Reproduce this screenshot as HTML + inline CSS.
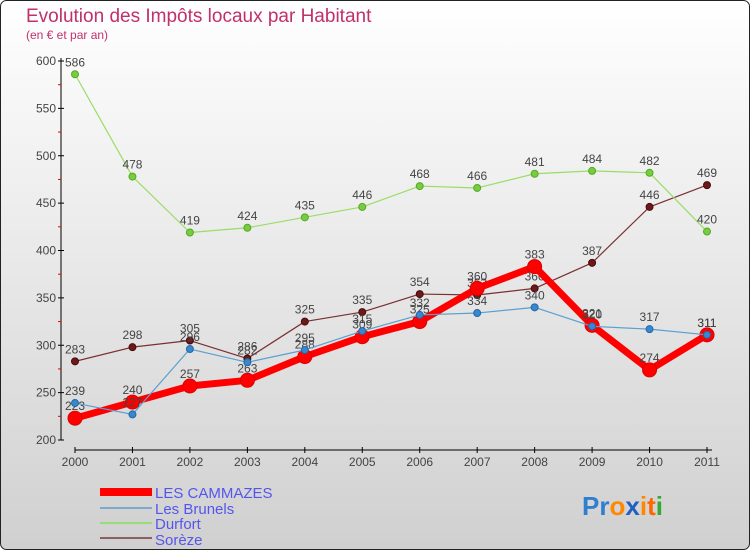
<!DOCTYPE html>
<html><head><meta charset="utf-8"><style>
body{margin:0;width:750px;height:550px;overflow:hidden;font-family:"Liberation Sans",sans-serif}
</style></head><body>
<svg id="chart" width="750" height="550" xmlns="http://www.w3.org/2000/svg">
<defs><linearGradient id="bg" x1="0" y1="0" x2="0" y2="1"><stop offset="0" stop-color="#ffffff"/><stop offset="1" stop-color="#d0d0d0"/></linearGradient></defs>
<rect x="0.5" y="0.5" width="749" height="549" rx="6" fill="url(#bg)" stroke="#222"/>
<text x="26" y="22" font-size="19" fill="#c0306a">Evolution des Impôts locaux par Habitant</text>
<text x="26" y="39" font-size="12" fill="#c0306a">(en € et par an)</text>
<g id="axes"></g><g id="series"></g>
<g>
<rect x="100" y="488" width="52" height="8" fill="#ff0000"/>
<text x="155" y="498" font-size="15" fill="#5555ee">LES CAMMAZES</text>
<rect x="100" y="507" width="52" height="2" fill="#7aaace"/>
<text x="155" y="514" font-size="15" fill="#5555ee">Les Brunels</text>
<rect x="100" y="522" width="52" height="2" fill="#99dd77"/>
<text x="155" y="529" font-size="15" fill="#5555ee">Durfort</text>
<rect x="100" y="537" width="52" height="2" fill="#8b6060"/>
<text x="155" y="545" font-size="15" fill="#5555ee">Sorèze</text>
</g>
<text x="582" y="515" font-size="26" font-weight="bold"><tspan fill="#2f7fd0">Pr</tspan><tspan fill="#ff8800">o</tspan><tspan fill="#2060c0">x</tspan><tspan fill="#ff8800">i</tspan><tspan fill="#ff6600">t</tspan><tspan fill="#33aa33">i</tspan></text>
</svg>
<script>
const years=[2000,2001,2002,2003,2004,2005,2006,2007,2008,2009,2010,2011];
const cammazes=[223,240,257,263,288,309,325,360,383,321,274,311];
const brunels=[239,227,296,282,295,315,332,334,340,320,317,311];
const durfort=[586,478,419,424,435,446,468,466,481,484,482,420];
const soreze=[283,298,305,286,325,335,354,353,360,387,446,469];
const yTicks=[200,250,300,350,400,450,500,550,600];
const NS='http://www.w3.org/2000/svg';
const x=i=>75+i*(707-75)/(years.length-1);
const y=v=>440-(v-200)*(440-61)/400;
function mk(tag,attrs,parent){const e=document.createElementNS(NS,tag);for(const k in attrs)e.setAttribute(k,attrs[k]);parent.appendChild(e);return e;}
const ax=document.getElementById('axes');
let l=mk('line',{x1:61,y1:58,x2:61,y2:440,stroke:'#000'},ax);


l=mk('line',{x1:75,y1:450,x2:712,y2:450,stroke:'#000'},ax);


yTicks.forEach((t,i)=>{
 mk('line',{x1:58,y1:y(t),x2:64,y2:y(t),stroke:'#000'},ax);
 const tx=mk('text',{x:56,y:y(t)+4,'font-size':12,fill:'#444','text-anchor':'end'},ax);
 tx.textContent=t;
 
 
 if(i<yTicks.length-1){const m=(t+yTicks[i+1])/2;mk('line',{x1:58,y1:y(m),x2:61,y2:y(m),stroke:'#e00'},ax);}
});
years.forEach((yr,i)=>{
 mk('line',{x1:x(i),y1:447,x2:x(i),y2:453,stroke:'#000'},ax);
 const tx=mk('text',{x:x(i),y:466,'font-size':12,fill:'#444','text-anchor':'middle'},ax);
 tx.textContent=yr;
 
 
});
const sg=document.getElementById('series');
function draw(data,name,color,w,r,dot,dotStroke){
 const g=mk('g',{},sg);
 
 
 const p=mk('polyline',{points:data.map((v,i)=>x(i)+','+y(v)).join(' '),fill:'none',stroke:color,'stroke-width':w,'stroke-linejoin':'round'},g);
 
 
 data.forEach((v,i)=>{
  const c=mk('circle',{cx:x(i),cy:y(v),r:r,fill:dot,stroke:dotStroke,'stroke-width':1},g);
  
  
  const t=mk('text',{x:x(i),y:y(v)-8,'font-size':12,fill:'#444','text-anchor':'middle'},g);
  t.textContent=v;
  
  
 });
}
draw(soreze,'soreze','#7a3030',1.2,3.5,'#6a1a1a','#4a0a0a');
draw(durfort,'durfort','#99dd66',1.2,3.5,'#77cc44','#55aa22');
draw(cammazes,'cammazes','#ff0000',7,7,'#ff0000','#dd0000');
draw(brunels,'brunels','#5aa0d0',1.2,3.5,'#3a88cc','#2266aa');
</script>
</body></html>
